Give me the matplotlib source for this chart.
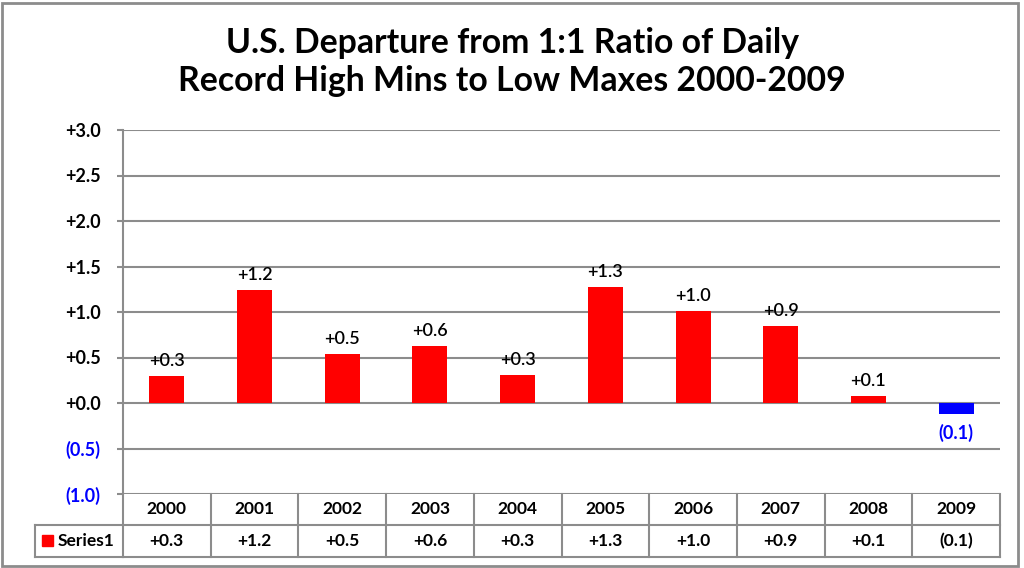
import numpy as np
import matplotlib.pyplot as plt
from matplotlib.patches import Rectangle
from matplotlib.lines import Line2D

years = ["2000", "2001", "2002", "2003", "2004", "2005", "2006", "2007", "2008", "2009"]
values = [0.30, 1.24, 0.54, 0.63, 0.31, 1.27, 1.01, 0.85, 0.08, -0.125]
labels = ["+0.3", "+1.2", "+0.5", "+0.6", "+0.3", "+1.3", "+1.0", "+0.9", "+0.1", "(0.1)"]
yticks = [-1.0, -0.5, 0.0, 0.5, 1.0, 1.5, 2.0, 2.5, 3.0]
yticklabels = ["(1.0)", "(0.5)", "+0.0", "+0.5", "+1.0", "+1.5", "+2.0", "+2.5", "+3.0"]
series_name = "Series1"
title = "U.S. Departure from 1:1 Ratio of Daily\nRecord High Mins to Low Maxes 2000-2009"

RED = "#FF0000"
BLUE = "#0000FF"
GRID = "#8C8C8C"
FONT = "Lato"

plt.rcParams["font.family"] = [FONT, "DejaVu Sans"]

W, H = 1024, 568
fig = plt.figure(figsize=(W / 100, H / 100), dpi=100)

# plot area in pixels
L, R, T, B = 123, 1000, 130, 494
ax = fig.add_axes([L / W, 1 - B / H, (R - L) / W, (B - T) / H])

x = np.arange(len(years))
colors = [RED if v >= 0 else BLUE for v in values]
ax.bar(x, values, width=0.4, color=colors, zorder=3)
ax.set_xlim(-0.5, len(years) - 0.5)
ax.set_ylim(-1.0, 3.0)

for s in ["top", "right", "bottom"]:
    ax.spines[s].set_visible(False)
ax.spines["left"].set_color(GRID)
ax.spines["left"].set_linewidth(1.5)
ax.set_yticks(yticks)
ax.set_yticklabels(yticklabels)
ax.tick_params(axis="y", length=4, width=1.5, color=GRID, pad=12, labelsize=13)
for lab, v in zip(ax.get_yticklabels(), yticks):
    lab.set_fontweight("bold")
    lab.set_color(BLUE if v < 0 else "black")
ax.set_xticks([])
ax.yaxis.grid(True, color=GRID, linewidth=1.5, zorder=0)
ax.set_axisbelow(True)

for xi, v, lab in zip(x, values, labels):
    if v >= 0:
        ax.annotate(lab, (xi, v), xytext=(0, 5), textcoords="offset points",
                    ha="center", va="bottom", fontsize=13, color="black",
                    fontweight="semibold")
    else:
        ax.annotate(lab, (xi, v), xytext=(0, -7), textcoords="offset points",
                    ha="center", va="top", fontsize=13, color=BLUE, fontweight="bold")

# data table below the axes (pixel rows converted to axes fraction)
ah = B - T
def ay(py):
    return (B - py) / ah
r1, r2, r3 = ay(494), ay(525), ay(557)
tr = ax.get_xaxis_transform()
kw = dict(transform=tr, clip_on=False, color=GRID, linewidth=1.5)
ax.add_line(Line2D([-0.5, len(years) - 0.5], [r2, r2], **kw))
ax.add_line(Line2D([-0.5, len(years) - 0.5], [r3, r3], **kw))
for b in np.arange(len(years) + 1) - 0.5:
    ax.add_line(Line2D([b, b], [r1, r3], **kw))
# legend cell
legL = -0.5 - (L - 35) / ((R - L) / len(years))
ax.add_line(Line2D([legL, -0.5], [r2, r2], **kw))
ax.add_line(Line2D([legL, -0.5], [r3, r3], **kw))
ax.add_line(Line2D([legL, legL], [r2, r3], **kw))

for xi, yr, lab in zip(x, years, labels):
    ax.text(xi, (r1 + r2) / 2, yr, transform=tr, ha="center", va="center",
            fontsize=12.5, fontweight="bold")
    ax.text(xi, (r2 + r3) / 2, lab, transform=tr, ha="center", va="center",
            fontsize=12.5, fontweight="bold")

fig.patches.append(Rectangle((42 / W, 1 - 546 / H), 11 / W, 11 / H,
                             transform=fig.transFigure, color=RED))
fig.text(58 / W, 1 - 541 / H, series_name, ha="left", va="center",
         fontsize=12.5, fontweight="bold")

fig.text(0.5, 1 - 62 / H, title, ha="center", va="center", fontsize=24.3,
         fontweight="bold", linespacing=1.2)

fig.patches.append(Rectangle((2 / W, 2 / H), 1016 / W, 1 - 5 / H,
                             transform=fig.transFigure, fill=False,
                             edgecolor="#8C8C8C", linewidth=2))

fig.savefig("out.png", dpi=100)
